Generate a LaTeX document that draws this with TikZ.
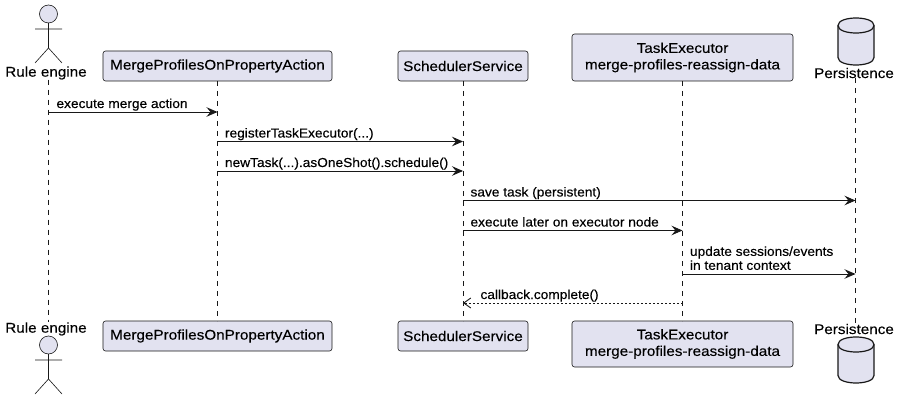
\documentclass[tikz,border=0pt]{standalone}
\usepackage{fontspec}
\setmainfont{Liberation Sans}[FakeStretch=1.09,FakeBold=0.2]
\newfontfamily\msgfont{Liberation Sans}[FakeStretch=1.055,FakeBold=0.2]
\usetikzlibrary{arrows.meta}
\definecolor{boxC}{HTML}{E2E2F0}
\definecolor{lineC}{HTML}{181818}
\begin{document}
\begin{tikzpicture}[x=1pt,y=-1pt,
  every node/.style={inner sep=0pt, outer sep=0pt},
  part/.style={draw=lineC, fill=boxC, line width=0.6pt, rounded corners=2.5pt,
    font=\fontsize{14}{16.5}\selectfont, align=center, minimum height=30pt},
  plabel/.style={font=\fontsize{14}{16}\selectfont},
  lifeline/.style={draw=lineC, line width=0.6pt, dash pattern=on 5pt off 5pt},
  msg/.style={draw=lineC, line width=0.9pt, -{Stealth[length=11pt,width=9.5pt,inset=4pt]}},
  ret/.style={draw=lineC, line width=0.9pt, dash pattern=on 2pt off 2pt, -{Straight Barb[length=7pt,width=10pt]}},
  mlabel/.style={font=\msgfont\fontsize{13}{14}\selectfont, align=left},
  actorS/.style={draw=lineC, line width=0.6pt},
  cylS/.style={draw=lineC, line width=1.2pt, fill=boxC},
]
\useasboundingbox (0,0) rectangle (897,401);

% lifeline x positions
\coordinate (reX) at (48.5,0);
\coordinate (peX) at (855.5,0);

% participants top
\node[part, minimum width=229pt] (mpaT) at (217.5,66) {MergeProfilesOnPropertyAction};
\node[part, minimum width=130pt] (ssT) at (463,66) {SchedulerService};
\node[part, minimum width=221pt, minimum height=47pt] (teT) at (682.5,57.5) {TaskExecutor\\merge-profiles-reassign-data};
% participants bottom
\node[part, minimum width=229pt] (mpaB) at (217.5,336) {MergeProfilesOnPropertyAction};
\node[part, minimum width=130pt] (ssB) at (463,336) {SchedulerService};
\node[part, minimum width=221pt, minimum height=46pt] (teB) at (682.5,344) {TaskExecutor\\merge-profiles-reassign-data};

% actor labels
\node[plabel] (reT) at (46,73) {Rule engine};
\node[plabel] (reB) at (46,329) {Rule engine};
\node[plabel] (peT) at (854,73) {Persistence};
\node[plabel] (peB) at (854,329) {Persistence};

% actor figures
\draw[actorS, fill=boxC] (48.5,14) circle[radius=9pt];
\draw[actorS] (48.5,23) -- (48.5,48) (35,29) -- (62,29) (35,63) -- (48.5,48) -- (62,63);
\draw[actorS, fill=boxC] (48.5,345) circle[radius=9pt];
\draw[actorS] (48.5,354) -- (48.5,379) (35,360) -- (62,360) (35,394) -- (48.5,379) -- (62,394);

% database cylinders
\draw[cylS] (838,25.5) .. controls (838,15.5) and (874,15.5) .. (874,25.5) -- (874,57.5)
  .. controls (874,67.5) and (838,67.5) .. (838,57.5) -- cycle;
\draw[cylS, fill=none] (838,25.5) .. controls (838,35.5) and (874,35.5) .. (874,25.5);
\draw[cylS] (838,344.5) .. controls (838,334.5) and (874,334.5) .. (874,344.5) -- (874,375.5)
  .. controls (874,385.5) and (838,385.5) .. (838,375.5) -- cycle;
\draw[cylS, fill=none] (838,344.5) .. controls (838,354.5) and (874,354.5) .. (874,344.5);

% lifelines
\draw[lifeline] (reT.south -| reX) -- (reB.north -| reX);
\draw[lifeline] (mpaT.south) -- (mpaB.north);
\draw[lifeline] (ssT.south) -- (ssB.north);
\draw[lifeline] (teT.south) -- (teB.north);
\draw[lifeline] (peT.south -| peX) -- (peB.north -| peX);

% message rows
\coordinate (r1) at (0,112);
\coordinate (r2) at (0,141.5);
\coordinate (r3) at (0,171);
\coordinate (r4) at (0,200.5);
\coordinate (r5) at (0,230.5);
\coordinate (r6) at (0,274);
\coordinate (r7) at (0,303);

\draw[msg] (reX |- r1) -- (mpaT |- r1);
\node[mlabel, anchor=base west] (l1) at ([shift={(8,-4)}] reX |- r1) {execute merge action};
\draw[msg] (mpaT |- r2) -- (ssT |- r2);
\node[mlabel, anchor=base west] (l2) at ([shift={(7.5,-4)}] mpaT |- r2) {registerTaskExecutor(...)};
\draw[msg] (mpaT |- r3) -- (ssT |- r3);
\node[mlabel, anchor=base west] (l3) at ([shift={(7.5,-4)}] mpaT |- r3) {newTask(...).asOneShot().schedule()};
\draw[msg] (ssT |- r4) -- (peX |- r4);
\node[mlabel, anchor=base west] (l4) at ([shift={(7.5,-4)}] ssT |- r4) {save task (persistent)};
\draw[msg] (ssT |- r5) -- (teT |- r5);
\node[mlabel, anchor=base west] (l5) at ([shift={(7.5,-4)}] ssT |- r5) {execute later on executor node};
\draw[msg] (teT |- r6) -- (peX |- r6);
\node[mlabel, anchor=south west] (l6) at ([shift={(7.5,-4)}] teT |- r6) {update sessions/events\\in tenant context};
\draw[ret] (teT |- r7) -- (ssT |- r7);
\node[mlabel, anchor=base west] (l7) at ([shift={(17.5,-4)}] ssT |- r7) {callback.complete()};
\end{tikzpicture}
\end{document}
